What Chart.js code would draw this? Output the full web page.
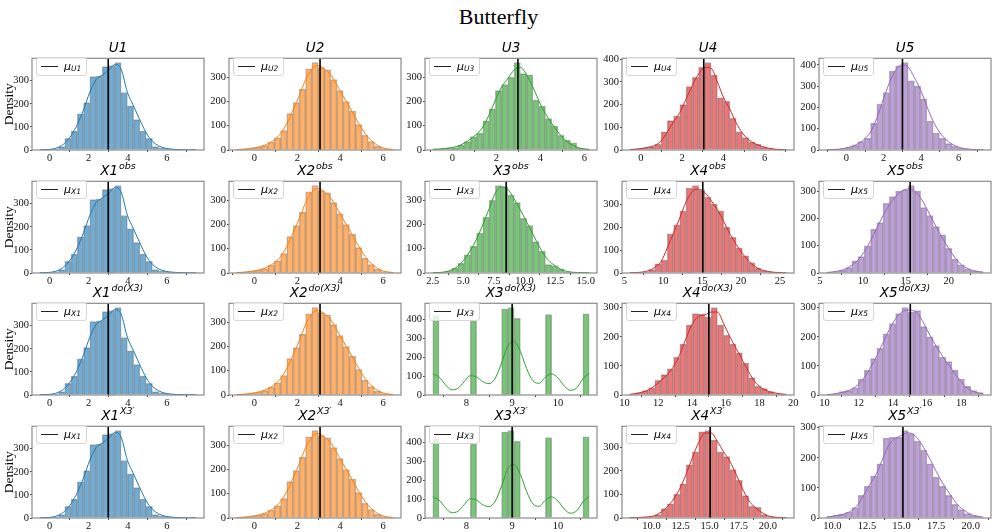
<!DOCTYPE html>
<html>
<head>
<meta charset="utf-8">
<script src="https://cdn.jsdelivr.net/npm/chart.js@4.4.1/dist/chart.umd.min.js"></script>
<style>
  body { margin: 0; background: #fff; width: 997px; height: 532px; position: relative; overflow: hidden; font-family: "DejaVu Sans", sans-serif; }
  #suptitle { position: absolute; left: 0; top: 4px; width: 997px; text-align: center; font: 22px "Liberation Serif", serif; color: #000; }
  .panel { position: absolute; }
  .ptitle { position: absolute; text-align: center; font-style: italic; font-size: 13.5px; line-height: 16px; color: #000; white-space: nowrap; }
  .ptitle sup { font-size: 9.5px; vertical-align: 0; position: relative; top: -6px; margin-left: 1px; }
  .legend { position: absolute; height: 17px; padding: 0 5px 0 4px; border: 1px solid #d6d6d6; border-radius: 3px; background: rgba(255,255,255,0.8); display: flex; align-items: center; font-size: 11px; font-style: italic; color: #000; }
  .legend .lline { display: inline-block; width: 17px; height: 0; border-top: 1.5px solid #222; margin-right: 6px; }
  .legend sub { font-size: 7.5px; vertical-align: 0; position: relative; top: 2px; }
</style>
</head>
<body>
<div id="suptitle">Butterfly</div>
<script>
// each variable: first/last bin edge, 25 bin counts, kde value at each bin edge, mean
const U1_range = [-0.5, 7.5];
const U1_counts = [1, 2, 5, 15, 50, 82, 157, 205, 318, 320, 361, 365, 378, 248, 191, 132, 82, 50, 15, 9, 4, 2, 1, 0, 1];
const U1_kde = [1, 2, 4, 12, 30, 62, 110, 175, 250, 305, 325, 345, 370, 350, 250, 190, 130, 75, 38, 18, 8, 4, 2, 1, 0.5, 0.3];
const U1_mean = 3.0;

const U2_range = [-0.82, 6.47];
const U2_counts = [3, 4, 8, 12, 18, 32, 50, 80, 150, 195, 250, 335, 360, 340, 330, 290, 245, 200, 160, 105, 60, 35, 15, 6, 2];
const U2_kde = [2, 3, 6, 10, 16, 26, 42, 68, 110, 165, 225, 290, 335, 348, 335, 310, 268, 222, 178, 132, 88, 52, 28, 12, 5, 2];
const U2_mean = 3.06;

const U3_range = [-0.89, 6.22];
const U3_counts = [3, 5, 8, 10, 20, 35, 55, 70, 120, 170, 245, 270, 300, 360, 315, 310, 205, 180, 130, 100, 60, 40, 30, 8, 5];
const U3_kde = [3, 4, 6, 10, 16, 28, 45, 65, 95, 145, 205, 260, 295, 330, 340, 310, 260, 200, 150, 110, 75, 45, 25, 12, 5, 2];
const U3_mean = 2.98;

const U4_range = [-0.53, 7.04];
const U4_counts = [3, 5, 10, 15, 25, 80, 130, 150, 200, 280, 320, 365, 385, 330, 230, 215, 140, 80, 55, 35, 25, 12, 6, 3, 1];
const U4_kde = [2, 4, 7, 12, 20, 40, 80, 125, 165, 225, 285, 335, 365, 360, 300, 230, 180, 120, 75, 45, 28, 17, 9, 4, 2, 1];
const U4_mean = 3.05;

const U5_range = [-1.04, 7.31];
const U5_counts = [1, 3, 6, 12, 22, 40, 55, 125, 215, 270, 370, 395, 410, 325, 300, 240, 135, 80, 55, 30, 18, 8, 4, 2, 1];
const U5_kde = [1, 2, 4, 9, 17, 30, 50, 85, 150, 235, 315, 375, 400, 390, 340, 280, 205, 135, 85, 50, 28, 14, 7, 3, 1.5, 1];
const U5_mean = 3.0;

const X3obs_range = [2.51, 15.28];
const X3obs_counts = [1, 3, 8, 20, 40, 75, 110, 165, 230, 300, 360, 355, 320, 290, 225, 195, 130, 90, 35, 30, 15, 5, 2, 1, 1];
const X3obs_kde = [1, 2, 5, 12, 28, 55, 92, 140, 200, 265, 330, 355, 345, 305, 260, 210, 160, 110, 68, 40, 22, 10, 4, 2, 1, 0.5];
const X3obs_mean = 8.5;

const X4obs_range = [5.7, 25.8];
const X4obs_counts = [1, 2, 5, 15, 40, 55, 170, 210, 270, 370, 380, 360, 330, 300, 270, 200, 155, 110, 75, 45, 20, 10, 5, 3, 2];
const X4obs_kde = [1, 2, 4, 10, 25, 50, 110, 175, 240, 310, 355, 365, 350, 315, 275, 225, 170, 125, 85, 52, 28, 14, 7, 3, 2, 1];
const X4obs_mean = 15.08;

const X5obs_range = [5.8, 24.0];
const X5obs_counts = [2, 5, 10, 20, 45, 60, 100, 160, 185, 255, 280, 300, 305, 320, 300, 240, 210, 170, 140, 90, 50, 30, 15, 8, 4];
const X5obs_kde = [2, 4, 8, 15, 28, 48, 78, 118, 165, 210, 250, 280, 300, 308, 300, 275, 235, 190, 148, 108, 72, 42, 22, 12, 6, 3];
const X5obs_mean = 15.5;

const X3do_range = [7.27, 10.68];
const X3do_counts = [420, 0, 0, 0, 0, 0, 390, 0, 0, 0, 0, 455, 462, 405, 0, 0, 0, 0, 425, 0, 0, 0, 0, 0, 430];
const X3do_kde = [112, 95, 55, 28, 35, 70, 102, 95, 70, 60, 90, 170, 260, 282, 230, 140, 75, 62, 95, 112, 90, 48, 25, 38, 85, 115];
const X3do_mean = 9.0;

const X4do_range = [10.32, 19.58];
const X4do_counts = [3, 8, 15, 25, 50, 70, 90, 130, 175, 240, 280, 278, 268, 300, 240, 205, 175, 145, 110, 60, 30, 22, 12, 5, 2];
const X4do_kde = [2, 5, 10, 18, 32, 50, 70, 98, 140, 195, 245, 270, 275, 285, 285, 245, 200, 160, 120, 80, 45, 25, 14, 8, 4, 2];
const X4do_mean = 15.0;

const X5do_range = [10.13, 19.29];
const X5do_counts = [2, 5, 12, 15, 25, 55, 85, 125, 160, 210, 245, 280, 300, 285, 290, 235, 200, 170, 130, 115, 85, 55, 30, 15, 8];
const X5do_kde = [1, 3, 7, 12, 20, 35, 60, 95, 135, 180, 225, 262, 285, 292, 288, 265, 225, 185, 150, 118, 88, 58, 32, 16, 8, 4];
const X5do_mean = 15.02;

const X4p_range = [8.13, 21.58];
const X4p_counts = [1, 2, 3, 6, 15, 40, 60, 100, 145, 225, 280, 365, 370, 330, 280, 260, 205, 160, 95, 50, 45, 15, 6, 3, 1];
const X4p_kde = [1, 2, 3, 5, 10, 25, 48, 80, 125, 185, 255, 320, 360, 360, 325, 280, 240, 185, 125, 75, 45, 25, 10, 4, 2, 1];
const X4p_mean = 15.04;

const X5p_range = [9.6, 20.9];
const X5p_counts = [5, 10, 12, 20, 35, 75, 105, 140, 180, 265, 268, 268, 290, 280, 255, 225, 180, 135, 105, 75, 45, 28, 15, 8, 3];
const X5p_kde = [3, 6, 10, 15, 25, 45, 80, 115, 150, 200, 245, 265, 275, 283, 275, 250, 215, 175, 135, 100, 70, 42, 25, 12, 6, 3];
const X5p_mean = 15.1;

const TICKS_U = [0, 2, 4, 6];
const TICKS_X3OBS = [2.5, 5.0, 7.5, 10.0, 12.5, 15.0];
const TICKS_X4OBS = [5, 10, 15, 20, 25];
const TICKS_X5OBS = [5, 10, 15, 20];
const TICKS_X3DO = [8, 9, 10];
const TICKS_X4DO = [10, 12, 14, 16, 18, 20];
const TICKS_X5DO = [10, 12, 14, 16, 18];
const TICKS_XP = [10.0, 12.5, 15.0, 17.5, 20.0];

const ROW_SUPS = ['', 'obs', 'do(X3)', 'X3\u2032'];
const ROW_NAMES = [['U1', 'U2', 'U3', 'U4', 'U5'], ['X1', 'X2', 'X3', 'X4', 'X5'], ['X1', 'X2', 'X3', 'X4', 'X5'], ['X1', 'X2', 'X3', 'X4', 'X5']];

const mk = (range, counts, kde, mean, ticks, dec) => ({ range, counts, kde, mean, ticks, dec });
const U1 = mk(U1_range, U1_counts, U1_kde, U1_mean, TICKS_U, 0);
const U2 = mk(U2_range, U2_counts, U2_kde, U2_mean, TICKS_U, 0);
const GRID = [
    [U1, U2, mk(U3_range, U3_counts, U3_kde, U3_mean, TICKS_U, 0),
        mk(U4_range, U4_counts, U4_kde, U4_mean, TICKS_U, 0),
        mk(U5_range, U5_counts, U5_kde, U5_mean, TICKS_U, 0)],
    [U1, U2, mk(X3obs_range, X3obs_counts, X3obs_kde, X3obs_mean, TICKS_X3OBS, 1),
        mk(X4obs_range, X4obs_counts, X4obs_kde, X4obs_mean, TICKS_X4OBS, 0),
        mk(X5obs_range, X5obs_counts, X5obs_kde, X5obs_mean, TICKS_X5OBS, 0)],
    [U1, U2, mk(X3do_range, X3do_counts, X3do_kde, X3do_mean, TICKS_X3DO, 0),
        mk(X4do_range, X4do_counts, X4do_kde, X4do_mean, TICKS_X4DO, 0),
        mk(X5do_range, X5do_counts, X5do_kde, X5do_mean, TICKS_X5DO, 0)],
    [U1, U2, mk(X3do_range, X3do_counts, X3do_kde, X3do_mean, TICKS_X3DO, 0),
        mk(X4p_range, X4p_counts, X4p_kde, X4p_mean, TICKS_XP, 1),
        mk(X5p_range, X5p_counts, X5p_kde, X5p_mean, TICKS_XP, 1)]
];

const FILL = ['rgba(31,119,180,0.62)', 'rgba(255,127,14,0.62)', 'rgba(44,160,44,0.62)', 'rgba(214,39,40,0.62)', 'rgba(148,103,189,0.62)'];
const LINE = ['#1f77b4', '#ff7f0e', '#2ca02c', '#d62728', '#9467bd'];

const COL_X = [32, 229, 425, 622, 819];
const ROW_Y = [53, 176, 298, 421];
const PW = 172, PH = 97;

const tickFont = { family: '"Liberation Serif", "Times New Roman", serif', size: 10.5 };

const frame = {
    id: 'frame',
    afterDatasetsDraw(chart) {
        const { ctx, chartArea: a } = chart;
        ctx.save();
        ctx.strokeStyle = '#8a8a8a';
        ctx.lineWidth = 1.2;
        ctx.strokeRect(a.left, a.top, a.right - a.left, a.bottom - a.top);
        ctx.restore();
    }
};

function drawPanel(p, row, col) {
    const L = col === 0 ? 32 : 30, R = 14, T = 2, B = 16;
    const left = COL_X[col], top = ROW_Y[row];

    const wrap = document.createElement('div');
    wrap.className = 'panel';
    wrap.style.left = (left - L) + 'px';
    wrap.style.top = (top - T) + 'px';
    wrap.style.width = (L + PW + R) + 'px';
    wrap.style.height = (T + PH + B) + 'px';
    const cv = document.createElement('canvas');
    wrap.appendChild(cv);
    document.body.appendChild(wrap);

    const [lo, hi] = p.range;
    const n = p.counts.length, w = (hi - lo) / n;
    const bars = p.counts.map((c, i) => ({ x: lo + w * (i + 0.5), y: c }));
    const kde = p.kde.map((v, i) => ({ x: lo + w * i, y: v }));
    const yMax = Math.max(...p.counts) * 1.05;
    const yTicks = [];
    for (let v = 0; v <= yMax; v += 100) yTicks.push({ value: v });

    new Chart(cv, {
        type: 'bar',
        data: {
            datasets: [
                { type: 'line', data: [{ x: p.mean, y: 0 }, { x: p.mean, y: yMax }], borderColor: '#000', borderWidth: 1.6, pointRadius: 0, order: 0 },
                { type: 'line', data: kde, borderColor: LINE[col], borderWidth: 1, pointRadius: 0, cubicInterpolationMode: 'monotone', order: 1 },
                { type: 'bar', data: bars, backgroundColor: FILL[col], borderColor: 'rgba(90,90,90,0.45)', borderWidth: 0.8,
                  barPercentage: 1, categoryPercentage: 1, grouped: false, order: 2 }
            ]
        },
        options: {
            responsive: true,
            maintainAspectRatio: false,
            animation: false,
            layout: { padding: { top: T, right: R, left: 0, bottom: 0 } },
            plugins: { legend: { display: false }, tooltip: { enabled: false } },
            scales: {
                x: {
                    type: 'linear',
                    min: lo - 0.05 * (hi - lo),
                    max: hi + 0.05 * (hi - lo),
                    offset: false,
                    grid: { drawOnChartArea: false, tickLength: 2, color: '#444' },
                    border: { display: false },
                    afterBuildTicks: s => { s.ticks = p.ticks.map(v => ({ value: v })); },
                    afterFit: s => { s.height = B; },
                    ticks: { font: tickFont, color: '#111', padding: 0, maxRotation: 0, autoSkip: false,
                             callback: v => Number(v).toFixed(p.dec) }
                },
                y: {
                    min: 0,
                    max: yMax,
                    grid: { drawOnChartArea: false, tickLength: 2, color: '#444' },
                    border: { display: false },
                    afterBuildTicks: s => { s.ticks = yTicks.slice(); },
                    afterFit: s => { s.width = L; },
                    ticks: { font: tickFont, color: '#111', padding: 1, callback: v => String(v) },
                    title: { display: col === 0, text: 'Density', color: '#000', padding: { top: 1, bottom: 0 },
                             font: { family: '"Liberation Serif", "Times New Roman", serif', size: 13.5 } }
                }
            }
        },
        plugins: [frame]
    });

    const t = document.createElement('div');
    t.className = 'ptitle';
    t.style.left = left + 'px';
    t.style.width = PW + 'px';
    t.style.top = (top - 14) + 'px';
    t.innerHTML = ROW_NAMES[row][col] + (ROW_SUPS[row] ? '<sup>' + ROW_SUPS[row] + '</sup>' : '');
    document.body.appendChild(t);

    const lg = document.createElement('div');
    lg.className = 'legend';
    lg.style.left = (left + 4) + 'px';
    lg.style.top = (top + 4) + 'px';
    lg.innerHTML = '<span class="lline"></span>\u03bc<sub>' + ROW_NAMES[row][col] + '</sub>';
    document.body.appendChild(lg);
}

GRID.forEach((r, ri) => r.forEach((p, ci) => drawPanel(p, ri, ci)));
</script>
</body>
</html>
